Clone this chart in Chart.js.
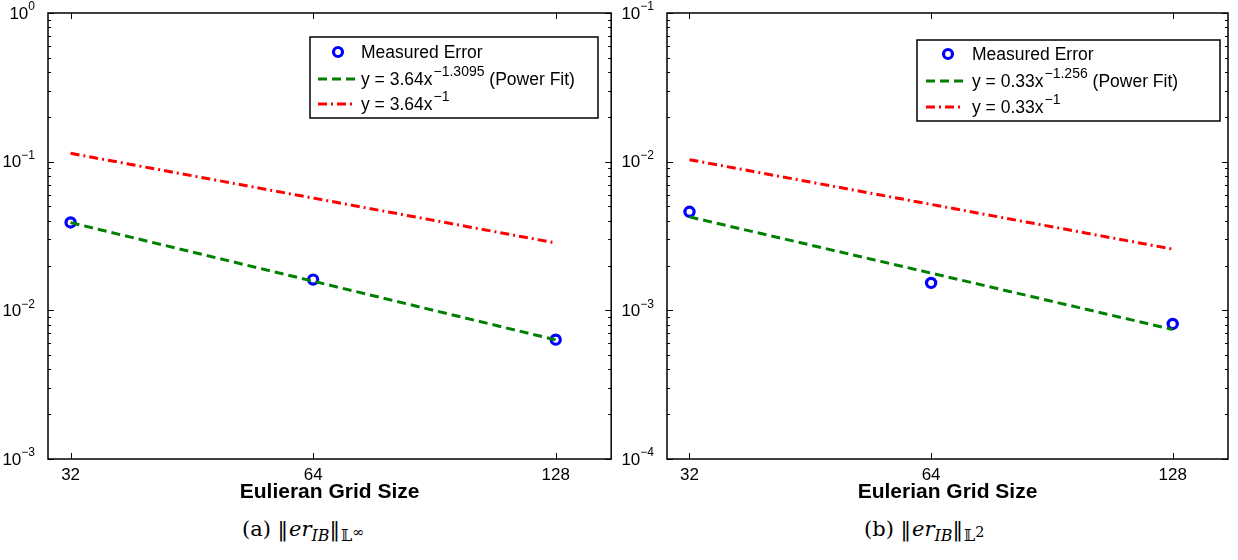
<!DOCTYPE html>
<html>
<head>
<meta charset="utf-8">
<script src="https://cdn.jsdelivr.net/npm/chart.js@4.4.1/dist/chart.umd.min.js"></script>
<style>
  html, body { margin: 0; padding: 0; background: #fff; }
  #wrap { position: relative; width: 1238px; height: 560px; overflow: hidden; }
  canvas { position: absolute; top: 0; }
  #cInf { left: 0; }
  #cL2 { left: 619px; }
  .cap {
    position: absolute; top: 517px;
    font-family: "DejaVu Serif", "Liberation Serif", serif;
    font-size: 21px; color: #000; white-space: nowrap;
  }
  .cap sub { font-size: 76%; vertical-align: -5px; }
  .cap .up { font-size: 90%; vertical-align: 4px; }
  .cap .nb { letter-spacing: 1px; }
  #capA { left: 242px; }
  #capB { left: 864px; }
</style>
</head>
<body>
<div id="wrap">
  <canvas id="cInf" width="619" height="509"></canvas>
  <canvas id="cL2" width="619" height="509"></canvas>
  <div class="cap" id="capA">(a) <span class="nb">‖</span><i>er</i><sub><i>IB</i></sub><span class="nb">‖</span><sub>𝕃<span class="up">∞</span></sub></div>
  <div class="cap" id="capB">(b) <span class="nb">‖</span><i>er</i><sub><i>IB</i></sub><span class="nb">‖</span><sub>𝕃<span class="up">2</span></sub></div>
</div>
<script>
// grid sizes on the x axis
const gridSize = [32, 64, 128];
const xTicks = [32, 64, 128];

// L-infinity norm of the IB error
const errInf = [0.0390, 0.0161, 0.00635];
const fitInf = [0.0389, 0.0157, 0.00633];   // 3.64 x^-1.3095
const refInf = [0.1138, 0.0569, 0.0284];    // 3.64 x^-1
const yTicksInf = [1e-3, 1e-2, 1e-1, 1];

// L2 norm of the IB error
const errL2 = [0.00460, 0.00153, 0.000810];
const fitL2 = [0.00425, 0.00178, 0.000743]; // 0.33 x^-1.256
const refL2 = [0.01031, 0.00516, 0.00258];  // 0.33 x^-1
const yTicksL2 = [1e-4, 1e-3, 1e-2, 1e-1];

const SANS = '"Liberation Sans", Arial, Helvetica, sans-serif';
const BLUE = '#0000ff', GREEN = '#008000', RED = '#ff0000';
const DASH = [9, 5];
const DASHDOT = [9, 4, 2, 4];

const pts = ys => gridSize.map((x, i) => ({ x: x, y: ys[i] }));

// frame, inside ticks, 10^n labels and the boxed legend
const matlabAxes = {
  id: 'matlabAxes',
  afterDraw(chart, args, opts) {
    const { ctx, chartArea: a, scales } = chart;
    const xs = scales.x, ys = scales.y;
    ctx.save();
    ctx.strokeStyle = '#000';
    ctx.lineWidth = 1.5;
    ctx.setLineDash([]);
    ctx.strokeRect(a.left, a.top, a.right - a.left, a.bottom - a.top);

    ctx.lineWidth = 1;
    ctx.beginPath();
    xTicks.forEach(v => {
      const px = Math.round(xs.getPixelForValue(v)) + 0.5;
      ctx.moveTo(px, a.bottom); ctx.lineTo(px, a.bottom - 6);
      ctx.moveTo(px, a.top); ctx.lineTo(px, a.top + 6);
    });
    opts.yTicks.forEach((d, k) => {
      const py = Math.round(ys.getPixelForValue(d)) + 0.5;
      ctx.moveTo(a.left, py); ctx.lineTo(a.left + 6, py);
      ctx.moveTo(a.right, py); ctx.lineTo(a.right - 6, py);
      if (k < opts.yTicks.length - 1) {
        for (let m = 2; m <= 9; m++) {
          const my = Math.round(ys.getPixelForValue(d * m)) + 0.5;
          ctx.moveTo(a.left, my); ctx.lineTo(a.left + 3, my);
          ctx.moveTo(a.right, my); ctx.lineTo(a.right - 3, my);
        }
      }
    });
    ctx.stroke();

    // decade labels
    ctx.fillStyle = '#000';
    ctx.textAlign = 'right';
    ctx.textBaseline = 'middle';
    opts.yTicks.forEach(d => {
      const py = ys.getPixelForValue(d);
      const e = Math.round(Math.log10(d));
      const exp = e < 0 ? '\u2212' + (-e) : String(e);
      ctx.font = '12px ' + SANS;
      ctx.fillText(exp, a.left - 13, py - 6);
      const w = ctx.measureText(exp).width;
      ctx.font = '17px ' + SANS;
      ctx.fillText('10', a.left - 13 - w, py + 1);
    });

    // legend
    const L = opts.legend;
    ctx.fillStyle = '#fff';
    ctx.fillRect(L.x, L.y, L.w, L.h);
    ctx.lineWidth = 1.5;
    ctx.strokeRect(L.x, L.y, L.w, L.h);
    chart.data.datasets.forEach((ds, i) => {
      const ry = L.rows[i];
      if (ds.showLine === false) {
        ctx.beginPath();
        ctx.setLineDash([]);
        ctx.lineWidth = 3.2;
        ctx.strokeStyle = BLUE;
        ctx.arc(L.mark, ry, 4.5, 0, Math.PI * 2);
        ctx.stroke();
      } else {
        ctx.beginPath();
        ctx.setLineDash(ds.borderDash);
        ctx.lineWidth = 3;
        ctx.strokeStyle = ds.borderColor;
        ctx.moveTo(L.line[0], ry);
        ctx.lineTo(L.line[1], ry);
        ctx.stroke();
      }
      ctx.setLineDash([]);
      ctx.fillStyle = '#000';
      ctx.textAlign = 'left';
      ctx.textBaseline = 'middle';
      const parts = ds.labelParts;
      let tx = L.text;
      ctx.font = '17.5px ' + SANS;
      ctx.fillText(parts[0], tx, ry + 1);
      tx += ctx.measureText(parts[0]).width;
      if (parts[1]) {
        ctx.font = '14px ' + SANS;
        ctx.fillText(parts[1], tx + 1, ry - 7);
        tx += ctx.measureText(parts[1]).width + 1;
      }
      if (parts[2]) {
        ctx.font = '17.5px ' + SANS;
        ctx.fillText(parts[2], tx, ry + 1);
      }
    });
    ctx.restore();
  }
};

function makePanel(id, err, fit, ref, yTicks, coef, power, xTitle, legend, padRight) {
  new Chart(document.getElementById(id), {
    type: 'line',
    data: {
      datasets: [
        {
          label: 'Measured Error',
          labelParts: ['Measured Error'],
          data: pts(err),
          showLine: false,
          pointRadius: 4.6,
          pointBorderWidth: 3.2,
          pointBorderColor: BLUE,
          pointBackgroundColor: 'rgba(255,255,255,0)',
          order: 3
        },
        {
          label: 'Power Fit',
          labelParts: ['y = ' + coef + 'x', '\u2212' + power, ' (Power Fit)'],
          data: pts(fit),
          borderColor: GREEN,
          borderWidth: 3,
          borderDash: DASH,
          pointRadius: 0,
          order: 2
        },
        {
          label: 'First order',
          labelParts: ['y = ' + coef + 'x', '\u22121'],
          data: pts(ref),
          borderColor: RED,
          borderWidth: 3,
          borderDash: DASHDOT,
          pointRadius: 0,
          order: 1
        }
      ]
    },
    options: {
      responsive: false,
      animation: false,
      layout: { padding: { left: 48, right: padRight, top: 13, bottom: 0 } },
      plugins: {
        legend: { display: false },
        tooltip: { enabled: false },
        matlabAxes: { yTicks: yTicks, legend: legend }
      },
      scales: {
        x: {
          type: 'logarithmic',
          min: 30, max: 150,
          afterBuildTicks: s => { s.ticks = xTicks.map(v => ({ value: v })); },
          afterFit: s => { s.height = 50; },
          grid: { display: false, drawTicks: false },
          border: { display: false },
          ticks: {
            autoSkip: false, maxRotation: 0, padding: 6, color: '#000',
            font: { family: SANS, size: 17 },
            callback: v => String(v)
          },
          title: {
            display: true, text: xTitle, color: '#000',
            font: { family: SANS, size: 21, weight: 'bold' },
            padding: { top: 0, bottom: 4 }
          }
        },
        y: {
          type: 'logarithmic',
          min: yTicks[0], max: yTicks[yTicks.length - 1],
          afterFit: s => { s.width = 0; },
          grid: { display: false, drawTicks: false },
          border: { display: false },
          ticks: { display: false }
        }
      }
    },
    plugins: [matlabAxes]
  });
}

makePanel('cInf', errInf, fitInf, refInf, yTicksInf, '3.64', '1.3095', 'Eulieran Grid Size',
  { x: 310, y: 37, w: 288, h: 81, rows: [52, 79, 104], mark: 338, line: [318, 356], text: 361 }, 6);
makePanel('cL2', errL2, fitL2, refL2, yTicksL2, '0.33', '1.256', 'Eulerian Grid Size',
  { x: 298, y: 40, w: 303, h: 81, rows: [54, 81, 107], mark: 329, line: [307, 345], text: 353 }, 10);
</script>
</body>
</html>
